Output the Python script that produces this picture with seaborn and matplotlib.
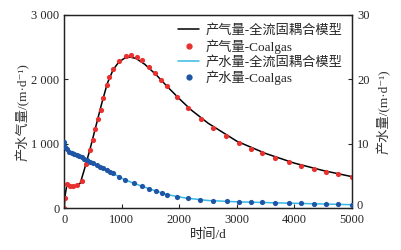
import matplotlib
matplotlib.use("Agg")
import matplotlib.pyplot as plt
import seaborn as sns
from matplotlib.lines import Line2D
from matplotlib.transforms import ScaledTranslation

# gas rate, Coalgas (points)
gas_t = [0, 12, 42, 99, 156, 215, 302, 377, 446, 493, 538, 580, 637, 677, 736, 781,
         851, 955, 1071, 1158, 1267, 1354, 1476, 1575, 1679, 1778, 1951, 2142, 2385,
         2587, 2807, 3038, 3241, 3444, 3670, 3901, 4121, 4340, 4555, 4757, 4990]
gas_pts = [0, 155, 373, 350, 347, 355, 424, 689, 906, 1062, 1228, 1384, 1518, 1711, 1907, 2037,
           2162, 2291, 2364, 2373, 2342, 2296, 2193, 2100, 1995, 1891, 1726, 1560, 1389,
           1244, 1129, 1020, 922, 860, 778, 715, 663, 607, 560, 529, 491]

# gas rate, full fluid-solid coupled model (line)
gas_model_t = [0, 20, 45, 100, 200, 280, 350, 450, 550, 650, 750, 850, 950, 1050, 1140,
               1250, 1400, 1600, 1800, 2000, 2200, 2500, 3000, 3500, 4000, 4500, 5000]
gas_model = [0, 220, 350, 345, 340, 390, 600, 920, 1270, 1620, 1940, 2150, 2270, 2330, 2348,
             2325, 2235, 2070, 1880, 1700, 1530, 1320, 1040, 850, 700, 585, 490]

# water rate, Coalgas (points)
wat_t = [0, 12, 42, 87, 128, 174, 215, 255, 302, 347, 389, 446, 503, 562, 620, 677, 736,
         793, 851, 955, 1054, 1215, 1344, 1470, 1587, 1691, 1778, 1951, 2142, 2356, 2587,
         2820, 3038, 3241, 3444, 3670, 3900, 4121, 4340, 4555, 4757, 4990]
wat_pts = [10.35, 9.57, 9.17, 8.80, 8.64, 8.44, 8.28, 8.13, 7.93, 7.71, 7.51, 7.24, 7.0,
           6.73, 6.47, 6.22, 5.95, 5.69, 5.44, 4.9, 4.40, 3.89, 3.47, 3.0, 2.69, 2.43, 2.07,
           1.80, 1.55, 1.25, 1.15, 1.08, 1.0, 0.95, 0.9, 0.85, 0.8, 0.75, 0.7, 0.65, 0.6, 0.56]

# water rate, coupled model (line)
wat_model_t = [0, 50, 100, 200, 400, 600, 800, 1000, 1200, 1500, 1800, 2100, 2500, 3000,
               3500, 4000, 4500, 5000]
wat_model = [10.2, 9.1, 8.8, 8.35, 7.45, 6.55, 5.65, 4.65, 3.9, 2.95, 2.1, 1.6, 1.2, 1.0,
             0.88, 0.77, 0.66, 0.55]

labels = ["产气量-全流固耦合模型", "产气量-Coalgas", "产水量-全流固耦合模型", "产水量-Coalgas"]

RED = "#e8302e"
BLUE = "#1f55a5"
CYAN = "#35b9e6"

sns.set_style("ticks")
plt.rcParams["font.family"] = ["Liberation Serif", "Noto Sans CJK SC", "DejaVu Serif"]
plt.rcParams["font.size"] = 9
plt.rcParams["xtick.direction"] = "in"
plt.rcParams["ytick.direction"] = "in"

fig = plt.figure(figsize=(4.01, 2.5), dpi=100)
ax = fig.add_axes([0.16, 0.167, 0.718, 0.773])
ax2 = ax.twinx()

sns.lineplot(x=gas_model_t, y=gas_model, ax=ax, color="black", linewidth=1.1)
sns.scatterplot(x=gas_t, y=gas_pts, ax=ax, color=RED, s=14, linewidth=0, zorder=3)
sns.lineplot(x=wat_model_t, y=wat_model, ax=ax2, color=CYAN, linewidth=1.1)
sns.scatterplot(x=wat_t, y=wat_pts, ax=ax2, color=BLUE, s=14, linewidth=0, zorder=3)

ax.set_xlim(0, 5000)
ax.set_ylim(0, 3000)
ax2.set_ylim(0, 30)
ax.set_xticks([0, 1000, 2000, 3000, 4000, 5000])
ax.set_yticks([0, 1000, 2000, 3000])
ax.set_yticklabels(["0", "1 000", "2 000", "3 000"])
ax2.set_yticks([0, 10, 20, 30])
ax.tick_params(labelsize=9, length=3, width=0.8, top=False)
ax.tick_params(axis="x", pad=4)
ax2.tick_params(labelsize=9, length=3, width=0.8)

# lift the right-hand "0" a little so it clears the "5000" below it
lbl0 = ax2.get_yticklabels()[0]
lbl0.set_transform(lbl0.get_transform() + ScaledTranslation(0, 3 / 72, fig.dpi_scale_trans))

ax.set_xlabel("时间/d", fontsize=9.5, labelpad=2)
ax.set_ylabel("产水气量/(m·d⁻¹)", fontsize=9.5, labelpad=1, color="#333333")
ax2.set_ylabel("产水量/(m·d⁻¹)", fontsize=9.5, labelpad=5, rotation=90, color="#333333")

for a in (ax, ax2):
    for sp in a.spines.values():
        sp.set_linewidth(0.9)
        sp.set_color("#222222")

handles = [
    Line2D([], [], color="black", linewidth=1.1),
    Line2D([], [], color=RED, marker="o", linestyle="none", markersize=3.5),
    Line2D([], [], color=CYAN, linewidth=1.1),
    Line2D([], [], color=BLUE, marker="o", linestyle="none", markersize=3.5),
]
ax2.legend(handles, labels, loc="upper right", bbox_to_anchor=(1.0, 1.0), frameon=False,
           fontsize=9.5, handlelength=1.6, handletextpad=0.5, labelspacing=0.15,
           borderaxespad=0.3)

fig.savefig("out.png", dpi=100)
